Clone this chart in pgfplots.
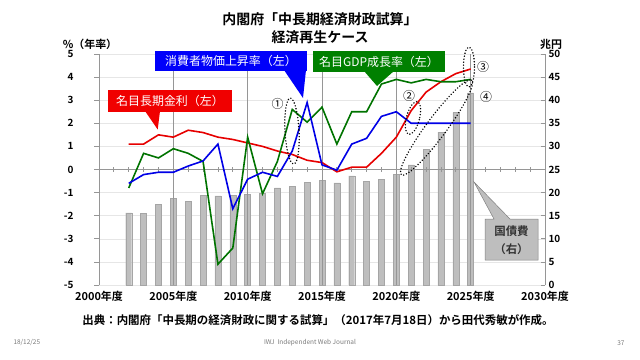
\documentclass[border=0pt]{standalone}
\usepackage{fontspec}
\setmainfont{Noto Sans CJK JP}[BoldFont={Noto Sans CJK JP Bold}]
\usepackage{pgfplots}
\pgfplotsset{compat=1.18}
\definecolor{cred}{RGB}{230,0,0}
\definecolor{cblue}{RGB}{0,0,230}
\definecolor{cgreen}{RGB}{0,115,0}
\definecolor{bred}{RGB}{240,0,0}
\definecolor{bblue}{RGB}{0,0,250}
\definecolor{bgreen}{RGB}{0,128,0}
\definecolor{barfill}{RGB}{190,190,190}
\definecolor{baredge}{RGB}{165,165,165}
\definecolor{axisgray}{RGB}{150,150,150}
\definecolor{gridlight}{RGB}{230,230,230}
\definecolor{footgray}{RGB}{120,120,120}
\begin{document}
\begin{tikzpicture}
\path[use as bounding box] (0,0) rectangle (640bp,-360bp);
% ---- right axis: debt service bars ----
\begin{axis}[
  at={(99bp,-285bp)}, anchor=south west, scale only axis,
  width=446bp, height=231bp,
  xmin=2000, xmax=2030, ymin=0, ymax=50,
  axis x line*=bottom, axis y line*=right,
  axis line style={-},
  x axis line style={draw=none},
  y axis line style={axisgray, line width=0.8bp},
  xtick={2000,2005,...,2030},
  xticklabels={2000年度,2005年度,2010年度,2015年度,2020年度,2025年度,2030年度},
  major x tick style={draw=none},
  xticklabel style={font=\bfseries\fontsize{11}{11}\selectfont, yshift=-3bp},
  ytick={0,5,...,50},
  yticklabels={0,5,10,15,20,25,30,35,40,45,50},
  ytick align=inside,
  major y tick style={axisgray, line width=0.8bp},
  major tick length=4bp,
  yticklabel style={font=\bfseries\fontsize{10}{10}\selectfont},
  ymajorgrids, grid style={gridlight, line width=0.6bp},
]
\addplot[ybar, bar width=6bp, fill=barfill, draw=baredge, line width=0.4bp] table {
x y
2002 15.6
2003 15.5
2004 17.5
2005 18.8
2006 18.1
2007 19.4
2008 19.3
2009 19.4
2010 19.6
2011 19.8
2012 21.0
2013 21.4
2014 22.2
2015 22.6
2016 22.1
2017 23.6
2018 22.5
2019 22.9
2020 23.9
2021 26.0
2022 29.3
2023 33.1
2024 37.3
2025 41.6
};
\end{axis}
% ---- left axis: rates ----
\begin{axis}[
  at={(99bp,-285bp)}, anchor=south west, scale only axis,
  width=446bp, height=231bp,
  xmin=2000, xmax=2030, ymin=-5, ymax=5,
  axis x line*=middle, axis y line*=left,
  axis line style={-, axisgray, line width=0.8bp},
  xtick={2000,2005,...,2030}, xticklabels={}, minor x tick num=4,
  xtick align=center,
  xmajorgrids, grid style={axisgray, line width=0.8bp},
  ytick={-5,-4,...,5}, yticklabels={-5,-4,-3,-2,-1,0,1,2,3,4,5},
  ytick align=outside,
  tick style={axisgray, line width=0.8bp},
  major tick length=5bp, minor tick length=5bp,
  yticklabel style={font=\bfseries\fontsize{10}{10}\selectfont, anchor=east, xshift=-17bp},
]
\addplot[cred, line width=1.6bp] table {
x y
2002 1.1
2003 1.1
2004 1.5
2005 1.4
2006 1.7
2007 1.6
2008 1.4
2009 1.3
2010 1.15
2011 1.0
2012 0.8
2013 0.65
2014 0.4
2015 0.3
2016 -0.1
2017 0.1
2018 0.1
2019 0.7
2020 1.4
2021 2.55
2022 3.35
2023 3.8
2024 4.15
2025 4.35
};
\addplot[cgreen, line width=1.6bp] table {
x y
2002 -0.8
2003 0.7
2004 0.5
2005 0.9
2006 0.7
2007 0.35
2008 -4.1
2009 -3.4
2010 1.4
2011 -1.05
2012 0.35
2013 2.6
2014 2.05
2015 2.7
2016 1.1
2017 2.5
2018 2.5
2019 3.7
2020 3.9
2021 3.75
2022 3.9
2023 3.8
2024 3.8
2025 3.9
};
\addplot[cblue, line width=1.6bp] table {
x y
2002 -0.6
2003 -0.22
2004 -0.12
2005 -0.12
2006 0.15
2007 0.37
2008 1.1
2009 -1.7
2010 -0.42
2011 -0.12
2012 -0.3
2013 0.8
2014 2.9
2015 0.2
2016 -0.03
2017 1.1
2018 1.35
2019 2.3
2020 2.5
2021 2.0
2022 2.0
2023 2.0
2024 2.0
2025 2.0
};
\end{axis}
% ---- annotations (pixel frame, y down) ----
\begin{scope}[x=1bp, y=-1bp]
\node[font=\bfseries\fontsize{14}{14}\selectfont] at (320,19) {内閣府「中長期経済財政試算」};
\node[font=\bfseries\fontsize{14}{14}\selectfont] at (320,37) {経済再生ケース};
\node[font=\bfseries\fontsize{11}{11}\selectfont] at (90,44) {\%（年率）};
\node[font=\bfseries\fontsize{11}{11}\selectfont] at (551,44) {兆円};
% red callout
\fill[bred] (108,90) rectangle (232,112);
\fill[bred] (145,111) -- (160,111) -- (157.7,129.5) -- cycle;
\node[white, font=\fontsize{12}{12}\selectfont] at (170,101) {名目長期金利（左）};
% blue callout
\fill[bblue] (155,51) rectangle (307,71);
\fill[bblue] (284,70) -- (306,70) -- (303,98) -- cycle;
\node[white, font=\fontsize{12}{12}\selectfont] at (231,61) {消費者物価上昇率（左）};
% green callout
\fill[bgreen] (313,51) rectangle (445,72);
\fill[bgreen] (364,71) -- (394,71) -- (377,86) -- cycle;
\node[white, font=\fontsize{12}{12}\selectfont] at (379,61.5) {名目GDP成長率（左）};
% grey callout
\filldraw[fill=barfill, draw=gray, line width=0.5bp] (485,219) -- (494,219) -- (474,182) -- (510,219) -- (538,219) -- (538,260) -- (485,260) -- cycle;
\node[font=\bfseries\fontsize{11.5}{11.5}\selectfont, text=black!80] at (511.5,231) {国債費};
\node[font=\bfseries\fontsize{11.5}{11.5}\selectfont, text=black!80] at (511.5,249) {（右）};
% dotted ellipses
\begin{scope}[shift={(292,131)}, rotate=3]
\draw[line width=1.6bp, dash pattern=on 0bp off 3bp, line cap=round] (0,0) ellipse [x radius=7, y radius=33];
\end{scope}
\begin{scope}[shift={(413,118)}, rotate=-15]
\draw[line width=1.6bp, dash pattern=on 0bp off 3bp, line cap=round] (0,0) ellipse [x radius=6.5, y radius=17];
\end{scope}
\begin{scope}[shift={(469,67)}]
\draw[line width=1.6bp, dash pattern=on 0bp off 3bp, line cap=round] (0,0) ellipse [x radius=5.5, y radius=20];
\end{scope}
\begin{scope}[shift={(436.5,127.5)}, rotate=53.4]
\draw[line width=1.6bp, dash pattern=on 0bp off 3bp, line cap=round] (0,0) ellipse [x radius=59, y radius=10];
\end{scope}
\node[font=\fontsize{12}{12}\selectfont] at (277.5,104) {①};
\node[font=\fontsize{12}{12}\selectfont] at (409,96) {②};
\node[font=\fontsize{12}{12}\selectfont] at (483,67) {③};
\node[font=\fontsize{12}{12}\selectfont] at (486,97) {④};
% source and footer
\node[font=\bfseries\fontsize{11.5}{11.5}\selectfont] at (318,320) {出典：内閣府「中長期の経済財政に関する試算」（2017年7月18日）から田代秀敏が作成。};
\node[font=\fontsize{6.5}{6.5}\selectfont, text=footgray, anchor=west] at (10,343) {18/12/25};
\node[font=\fontsize{6.5}{6.5}\selectfont, text=footgray] at (310,343) {IWJ\ \ Independent Web Journal};
\node[font=\fontsize{6.5}{6.5}\selectfont, text=footgray, anchor=east] at (628,343) {37};
\end{scope}
\end{tikzpicture}
\end{document}
